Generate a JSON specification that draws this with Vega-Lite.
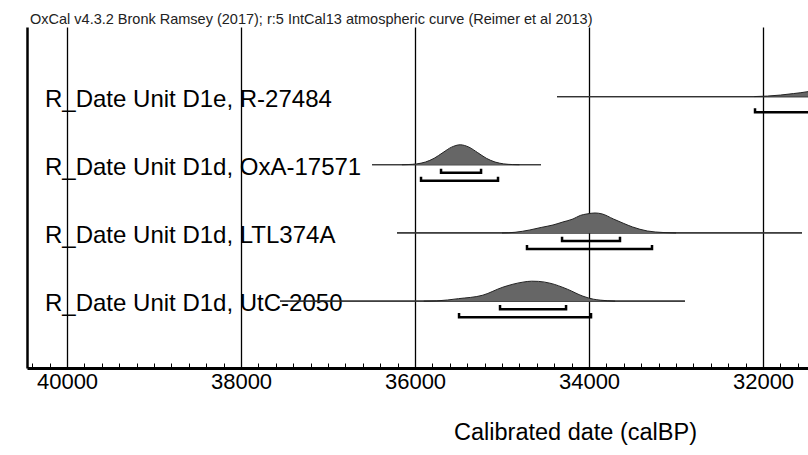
{
  "$schema": "https://vega.github.io/schema/vega-lite/v6.json",
  "width": 781,
  "height": 341,
  "autosize": {"type": "none"},
  "padding": {"left": 27, "top": 27, "right": 0, "bottom": 87},
  "background": "white",
  "config": {"view": {"stroke": null}, "font": "Liberation Sans"},
  "title": {
    "text": "OxCal v4.3.2 Bronk Ramsey (2017); r:5 IntCal13 atmospheric curve (Reimer et al 2013)",
    "anchor": "start", "fontSize": 14.5, "fontWeight": "normal", "font": "Liberation Sans",
    "color": "#222", "offset": 0, "dx": 3
  },
  "datasets": {
    "labels": [
      {"label": "R_Date Unit D1e, R-27484", "y": 4},
      {"label": "R_Date Unit D1d, OxA-17571", "y": 3},
      {"label": "R_Date Unit D1d, LTL374A", "y": 2},
      {"label": "R_Date Unit D1d, UtC-2050", "y": 1}
    ],
    "ranges": [
      {"id": "R-27484", "from": 34368, "to": 31000, "y": 4},
      {"id": "OxA-17571", "from": 36494, "to": 34552, "y": 3},
      {"id": "LTL374A", "from": 36207, "to": 31552, "y": 2},
      {"id": "UtC-2050", "from": 37552, "to": 32897, "y": 1}
    ],
    "dens": [
      {"id": "R-27484", "date": 32100, "y": 4.0, "base": 4},
      {"id": "R-27484", "date": 31950, "y": 4.007, "base": 4},
      {"id": "R-27484", "date": 31800, "y": 4.022, "base": 4},
      {"id": "R-27484", "date": 31650, "y": 4.044, "base": 4},
      {"id": "R-27484", "date": 31480, "y": 4.073, "base": 4},
      {"id": "R-27484", "date": 31300, "y": 4.13, "base": 4},

      {"id": "OxA-17571", "date": 36150, "y": 3.0, "base": 3},
      {"id": "OxA-17571", "date": 36080, "y": 3.003, "base": 3},
      {"id": "OxA-17571", "date": 35980, "y": 3.013, "base": 3},
      {"id": "OxA-17571", "date": 35880, "y": 3.04, "base": 3},
      {"id": "OxA-17571", "date": 35780, "y": 3.095, "base": 3},
      {"id": "OxA-17571", "date": 35680, "y": 3.178, "base": 3},
      {"id": "OxA-17571", "date": 35580, "y": 3.258, "base": 3},
      {"id": "OxA-17571", "date": 35480, "y": 3.293, "base": 3},
      {"id": "OxA-17571", "date": 35380, "y": 3.258, "base": 3},
      {"id": "OxA-17571", "date": 35280, "y": 3.178, "base": 3},
      {"id": "OxA-17571", "date": 35180, "y": 3.095, "base": 3},
      {"id": "OxA-17571", "date": 35080, "y": 3.04, "base": 3},
      {"id": "OxA-17571", "date": 34980, "y": 3.013, "base": 3},
      {"id": "OxA-17571", "date": 34880, "y": 3.003, "base": 3},
      {"id": "OxA-17571", "date": 34800, "y": 3.0, "base": 3},

      {"id": "LTL374A", "date": 35000, "y": 2.0, "base": 2},
      {"id": "LTL374A", "date": 34850, "y": 2.01, "base": 2},
      {"id": "LTL374A", "date": 34680, "y": 2.044, "base": 2},
      {"id": "LTL374A", "date": 34550, "y": 2.081, "base": 2},
      {"id": "LTL374A", "date": 34414, "y": 2.117, "base": 2},
      {"id": "LTL374A", "date": 34300, "y": 2.161, "base": 2},
      {"id": "LTL374A", "date": 34184, "y": 2.205, "base": 2},
      {"id": "LTL374A", "date": 34100, "y": 2.257, "base": 2},
      {"id": "LTL374A", "date": 34023, "y": 2.279, "base": 2},
      {"id": "LTL374A", "date": 33930, "y": 2.293, "base": 2},
      {"id": "LTL374A", "date": 33850, "y": 2.279, "base": 2},
      {"id": "LTL374A", "date": 33720, "y": 2.205, "base": 2},
      {"id": "LTL374A", "date": 33600, "y": 2.139, "base": 2},
      {"id": "LTL374A", "date": 33500, "y": 2.088, "base": 2},
      {"id": "LTL374A", "date": 33330, "y": 2.029, "base": 2},
      {"id": "LTL374A", "date": 33150, "y": 2.007, "base": 2},
      {"id": "LTL374A", "date": 33000, "y": 2.0, "base": 2},

      {"id": "UtC-2050", "date": 35900, "y": 1.0, "base": 1},
      {"id": "UtC-2050", "date": 35750, "y": 1.004, "base": 1},
      {"id": "UtC-2050", "date": 35500, "y": 1.037, "base": 1},
      {"id": "UtC-2050", "date": 35220, "y": 1.088, "base": 1},
      {"id": "UtC-2050", "date": 34990, "y": 1.205, "base": 1},
      {"id": "UtC-2050", "date": 34760, "y": 1.279, "base": 1},
      {"id": "UtC-2050", "date": 34660, "y": 1.293, "base": 1},
      {"id": "UtC-2050", "date": 34580, "y": 1.29, "base": 1},
      {"id": "UtC-2050", "date": 34450, "y": 1.264, "base": 1},
      {"id": "UtC-2050", "date": 34250, "y": 1.176, "base": 1},
      {"id": "UtC-2050", "date": 34070, "y": 1.073, "base": 1},
      {"id": "UtC-2050", "date": 33950, "y": 1.029, "base": 1},
      {"id": "UtC-2050", "date": 33870, "y": 1.015, "base": 1},
      {"id": "UtC-2050", "date": 33700, "y": 1.0, "base": 1}
    ],
    "brackets": [
      {"b": "R95", "date": 32092, "y": 3.83, "o": 1},
      {"b": "R95", "date": 32092, "y": 3.77, "o": 2},
      {"b": "R95", "date": 31000, "y": 3.77, "o": 3},

      {"b": "O68", "date": 35701, "y": 2.943, "o": 1},
      {"b": "O68", "date": 35701, "y": 2.883, "o": 2},
      {"b": "O68", "date": 35241, "y": 2.883, "o": 3},
      {"b": "O68", "date": 35241, "y": 2.943, "o": 4},
      {"b": "O95", "date": 35931, "y": 2.825, "o": 1},
      {"b": "O95", "date": 35931, "y": 2.765, "o": 2},
      {"b": "O95", "date": 35046, "y": 2.765, "o": 3},
      {"b": "O95", "date": 35046, "y": 2.825, "o": 4},

      {"b": "L68", "date": 34310, "y": 1.943, "o": 1},
      {"b": "L68", "date": 34310, "y": 1.883, "o": 2},
      {"b": "L68", "date": 33644, "y": 1.883, "o": 3},
      {"b": "L68", "date": 33644, "y": 1.943, "o": 4},
      {"b": "L95", "date": 34713, "y": 1.825, "o": 1},
      {"b": "L95", "date": 34713, "y": 1.765, "o": 2},
      {"b": "L95", "date": 33276, "y": 1.765, "o": 3},
      {"b": "L95", "date": 33276, "y": 1.825, "o": 4},

      {"b": "U68", "date": 35023, "y": 0.943, "o": 1},
      {"b": "U68", "date": 35023, "y": 0.883, "o": 2},
      {"b": "U68", "date": 34264, "y": 0.883, "o": 3},
      {"b": "U68", "date": 34264, "y": 0.943, "o": 4},
      {"b": "U95", "date": 35494, "y": 0.825, "o": 1},
      {"b": "U95", "date": 35494, "y": 0.765, "o": 2},
      {"b": "U95", "date": 33977, "y": 0.765, "o": 3},
      {"b": "U95", "date": 33977, "y": 0.825, "o": 4}
    ]
  },
  "layer": [
    {
      "data": {"name": "ranges"},
      "mark": {"type": "rule", "color": "#333", "strokeWidth": 1.2, "clip": true},
      "encoding": {
        "x": {
          "field": "from", "type": "quantitative",
          "title": "Calibrated date (calBP)",
          "scale": {"domain": [31483, 40460], "reverse": true, "nice": false, "zero": false},
          "axis": {
            "values": [40400, 40200, 40000, 39800, 39600, 39400, 39200, 39000, 38800, 38600, 38400, 38200, 38000, 37800, 37600, 37400, 37200, 37000, 36800, 36600, 36400, 36200, 36000, 35800, 35600, 35400, 35200, 35000, 34800, 34600, 34400, 34200, 34000, 33800, 33600, 33400, 33200, 33000, 32800, 32600, 32400, 32200, 32000, 31800, 31600],
            "tickCount": 200,
            "format": "d",
            "labelExpr": "datum.value % 2000 === 0 ? datum.label : ''",
            "labelOverlap": false, "labelFlush": false,
            "labelFontSize": 22, "labelColor": "black", "labelFont": "Liberation Sans",
            "labelPadding": 8,
            "tickSize": -5, "tickColor": "black", "tickWidth": 1,
            "domainColor": "black", "domainWidth": 3,
            "grid": true, "gridColor": "black", "gridWidth": 1.3,
            "gridOpacity": {"condition": {"test": "datum.value % 2000 === 0", "value": 1}, "value": 0},
            "titleFontSize": 23.5, "titleFontWeight": "normal", "titleColor": "black", "titleFont": "Liberation Sans",
            "titleX": 548, "titleY": 71, "titleBaseline": "alphabetic", "titleAlign": "center"
          }
        },
        "x2": {"field": "to"},
        "y": {
          "field": "y", "type": "quantitative",
          "scale": {"domain": [0.02, 5.02], "nice": false, "zero": false},
          "axis": {"domain": true, "domainColor": "black", "domainWidth": 2.5, "ticks": false, "labels": false, "grid": false, "title": null}
        }
      }
    },
    {
      "data": {"name": "labels"},
      "mark": {"type": "text", "align": "left", "baseline": "middle", "fontSize": 24, "font": "Liberation Sans", "color": "black", "dy": 3},
      "encoding": {
        "x": {"datum": 40253, "type": "quantitative", "title": "Calibrated date (calBP)"},
        "y": {"field": "y", "type": "quantitative"},
        "text": {"field": "label"}
      }
    },
    {
      "data": {"name": "ranges"},
      "mark": {"type": "rule", "color": "#333", "strokeWidth": 1.2, "clip": true},
      "encoding": {
        "x": {"field": "from", "type": "quantitative", "title": "Calibrated date (calBP)"},
        "x2": {"field": "to"},
        "y": {"field": "y", "type": "quantitative"}
      }
    },
    {
      "data": {"name": "dens"},
      "mark": {"type": "area", "color": "#666", "opacity": 1, "interpolate": "monotone", "clip": true, "line": {"color": "#222", "strokeWidth": 1}},
      "encoding": {
        "x": {"field": "date", "type": "quantitative", "title": "Calibrated date (calBP)"},
        "y": {"field": "y", "type": "quantitative"},
        "y2": {"field": "base"},
        "detail": {"field": "id"}
      }
    },
    {
      "data": {"name": "brackets"},
      "mark": {"type": "line", "color": "black", "strokeWidth": 2.5, "clip": true, "strokeJoin": "miter"},
      "encoding": {
        "x": {"field": "date", "type": "quantitative", "title": "Calibrated date (calBP)"},
        "y": {"field": "y", "type": "quantitative"},
        "detail": {"field": "b"},
        "order": {"field": "o"}
      }
    },
    {
      "mark": {"type": "rule", "color": "black", "strokeWidth": 2.5},
      "encoding": {"y": {"datum": 5.02, "type": "quantitative"}}
    }
  ]
}
